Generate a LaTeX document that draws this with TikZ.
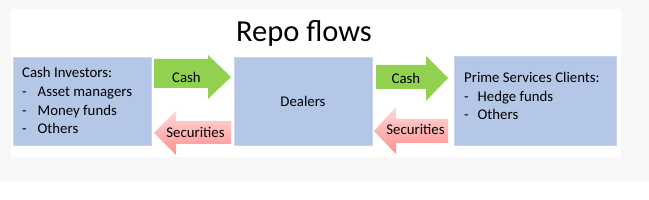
\documentclass[tikz,border=0pt]{standalone}
\usepackage{fontspec}
\setmainfont{Carlito}
\definecolor{bggray}{HTML}{F7F7F7}
\definecolor{boxblue}{HTML}{B4C7E7}
\definecolor{boxedge}{HTML}{C8D5EC}
\definecolor{cashgreen}{HTML}{92D050}
\definecolor{secpinkA}{HTML}{FFDADA}
\definecolor{secpinkB}{HTML}{FF8E8E}
\begin{document}
\begin{tikzpicture}[x=1pt,y=-1pt,
  bluebox/.style={fill=boxblue,draw=boxedge,line width=0.8pt},
  cashshape/.style={fill=cashgreen,draw=none},
  secshape/.style={top color=secpinkA,bottom color=secpinkB,draw=none},
  lbl/.style={font=\fontsize{14.8}{17}\selectfont,inner sep=0pt,anchor=base},
  listtext/.style={font=\fontsize{14.8}{18.67}\selectfont,align=left,inner sep=0pt,anchor=base west}]
\useasboundingbox (0,0) rectangle (649,200);
\fill[white] (0,0) rectangle (649,200);
\fill[bggray] (0,0) rectangle (649,181);
\fill[white] (11,9) rectangle (621,157);
% title
\node[font=\fontsize{30.5}{34}\selectfont,inner sep=0pt,anchor=base] (title) at (304,41.5) {Repo flows};
% boxes
\draw[bluebox] (13,57) rectangle (151,145);
\draw[bluebox] (234,57) rectangle (372,145);
\draw[bluebox] (454,56) rectangle (616,145);
% base anchor of a multi-line node = baseline of its last line
\node[listtext] (cashinv) at (22,133.7) {Cash Investors:\\\makebox[15.5pt][l]{-}Asset managers\\\makebox[15.5pt][l]{-}Money funds\\\makebox[15.5pt][l]{-}Others};
\node[lbl] (dealers) at (303,106.5) {Dealers};
\node[listtext] (prime) at (464,120) {Prime Services Clients:\\\makebox[13.5pt][l]{-}Hedge funds\\\makebox[13.5pt][l]{-}Others};
% arrows
\path[cashshape] (154,59) -- (208,59) -- (208,55) -- (231,77) -- (208,99) -- (208,88) -- (154,88) -- cycle;
\node[lbl] (cash1) at (186.5,82.7) {Cash};
\path[secshape] (154,133) -- (176,111) -- (176,121) -- (231,121) -- (231,144) -- (176,144) -- (176,155) -- cycle;
\node[lbl] (sec1) at (195.5,137.7) {Securities};
\path[cashshape] (376,65) -- (426,65) -- (426,56) -- (448,78) -- (426,101) -- (426,89) -- (376,89) -- cycle;
\node[lbl] (cash2) at (406,84) {Cash};
\path[secshape] (374,131) -- (396,107) -- (396,119) -- (448,119) -- (448,143) -- (396,143) -- (396,154) -- cycle;
\node[lbl] (sec2) at (415.5,135) {Securities};
\end{tikzpicture}
\end{document}
